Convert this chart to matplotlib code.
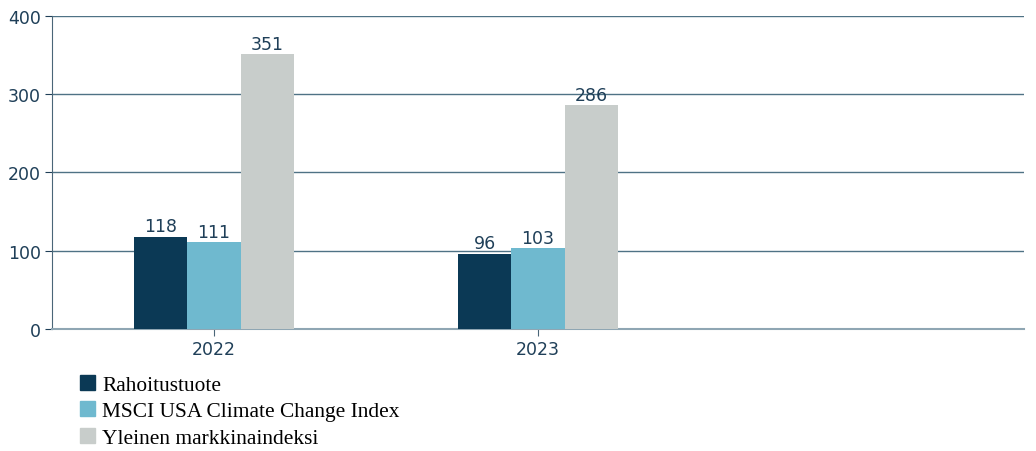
import matplotlib.pyplot as plt
import numpy as np
from matplotlib.patches import Patch

years = ["2022", "2023", ""]
series = ["Rahoitustuote", "MSCI USA Climate Change Index", "Yleinen markkinaindeksi"]
rahoitustuote = [118, 96]
msci = [111, 103]
yleinen = [351, 286]
colors = ["#0b3955", "#6fb9cf", "#c8cdcb"]

text_col = "#1f3f58"
grid_col = "#4f7285"
plt.rcParams["font.family"] = "DejaVu Sans"

fig = plt.figure(figsize=(10.36, 4.52), dpi=100)
ax = fig.add_axes([0.0502, 0.27, 0.9382, 0.6924])

w = 0.165
x = np.arange(2)
for i, (vals, col) in enumerate(zip([rahoitustuote, msci, yleinen], colors)):
    bars = ax.bar(x + (i - 1) * w, vals, w, color=col, zorder=3)
    ax.bar_label(bars, padding=1, fontsize=12.5, color=text_col)

ax.set_xlim(-0.5, 2.5)
ax.set_ylim(0, 400)
ax.set_yticks([0, 100, 200, 300, 400])
ax.set_xticks([0, 1])
ax.set_xticklabels(years[:2])
ax.yaxis.grid(True, color=grid_col, linewidth=1)
ax.set_axisbelow(True)
for s in ["top", "right"]:
    ax.spines[s].set_visible(False)
ax.spines["left"].set_color("#4a6678")
ax.spines["bottom"].set_color("#8fa6b3")
ax.spines["bottom"].set_linewidth(1.5)
ax.tick_params(colors=text_col, labelsize=12.5, length=5, pad=3)
ax.tick_params(axis="x", colors="#4a6678", labelcolor=text_col)

handles = [Patch(color=c) for c in colors]
leg = fig.legend(handles, series, loc="upper left", bbox_to_anchor=(0.0685, 0.188),
                 frameon=False, handlelength=0.72, handleheight=0.72,
                 handletextpad=0.35, labelspacing=0.3, borderaxespad=0,
                 prop={"family": "Liberation Serif", "size": 15.4})

fig.savefig("out.png", dpi=100)
